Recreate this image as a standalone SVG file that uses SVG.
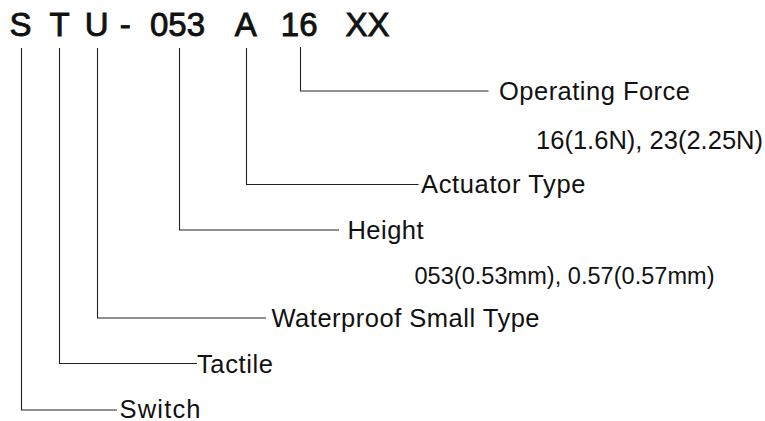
<svg xmlns="http://www.w3.org/2000/svg" width="765" height="421" viewBox="0 0 765 421">
<style>
.code{font-family:"Liberation Sans",Arial,sans-serif;font-size:33px;fill:#111;stroke:#111;stroke-width:0.9;text-anchor:middle}
.lbl{font-family:"Liberation Sans",Arial,sans-serif;font-size:25.5px;fill:#111}
.conn{fill:none;stroke:#222;stroke-width:1.1}
</style>
<rect width="765" height="421" fill="#fff"/>
<g id="code">
<text class="code" x="20.5" y="36">S</text>
<text class="code" x="59.7" y="36">T</text>
<text class="code" x="96.7" y="36">U</text>
<text class="code" x="125.3" y="36">-</text>
<text class="code" x="177.5" y="36">053</text>
<text class="code" x="245.8" y="36">A</text>
<text class="code" x="299.2" y="36">16</text>
<text class="code" x="367.5" y="36">XX</text>
</g>
<g id="connectors">
<path class="conn" d="M21.5,48 V410 H117"/>
<path class="conn" d="M59.5,48 V363.5 H197"/>
<path class="conn" d="M97.5,48 V318 H266"/>
<path class="conn" d="M179.5,48 V230 H339"/>
<path class="conn" d="M246.5,48 V184.5 H418.5"/>
<path class="conn" d="M300.5,47 V91 H488.5"/>
</g>
<g id="operating-force">
<text class="lbl" x="499" y="100" textLength="191" lengthAdjust="spacing">Operating Force</text>
<text class="lbl" x="536" y="148.5" textLength="227" lengthAdjust="spacing">16(1.6N), 23(2.25N)</text>
</g>
<g id="actuator-type"><text class="lbl" x="421" y="193" textLength="164.5" lengthAdjust="spacing">Actuator Type</text></g>
<g id="height">
<text class="lbl" x="347.5" y="238.5" textLength="76" lengthAdjust="spacing">Height</text>
<text class="lbl" x="414.5" y="283.5" style="font-size:23.5px" textLength="300" lengthAdjust="spacing">053(0.53mm), 0.57(0.57mm)</text>
</g>
<g id="waterproof"><text class="lbl" x="271.5" y="327" textLength="268" lengthAdjust="spacing">Waterproof Small Type</text></g>
<g id="tactile"><text class="lbl" x="197" y="372.5" textLength="76" lengthAdjust="spacing">Tactile</text></g>
<g id="switch"><text class="lbl" x="119.5" y="417.5" textLength="81" lengthAdjust="spacing">Switch</text></g>
</svg>
